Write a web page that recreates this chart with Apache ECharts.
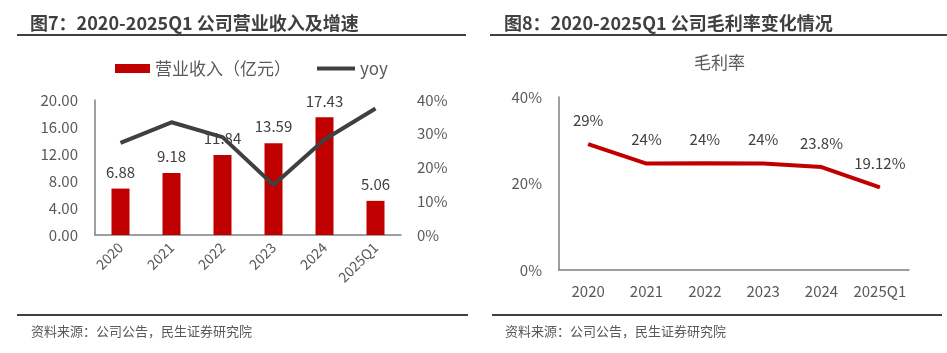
<!DOCTYPE html>
<html><head><meta charset="utf-8">
<script src="https://cdn.jsdelivr.net/npm/echarts@6/dist/echarts.min.js"></script>
<style>html,body{margin:0;padding:0;background:#fff}#c{width:947px;height:353px}</style>
</head><body><div id="c"></div>
<script>
var categories = ['2020','2021','2022','2023','2024','2025Q1'];
var revenue = [6.88, 9.18, 11.84, 13.59, 17.43, 5.06];
var yoy = [27.3, 33.4, 29.0, 14.8, 28.3, 37.5];
var grossMargin = [29.1, 24.6, 24.7, 24.6, 23.8, 19.12];
var grossMarginLabels = ['29%','24%','24%','24%','23.8%','19.12%'];
var leftTicks = [0, 4, 8, 12, 16, 20];
var font = '"Noto Sans CJK SC", "Noto Sans", sans-serif';
var chart = echarts.init(document.getElementById('c'));
var axisLabelStyle = {color:'#595959', fontSize:15, fontFamily:font};
chart.setOption({
  animation:false,
  textStyle:{fontFamily:font},
  title:[
    {text:'图7：2020-2025Q1 公司营业收入及增速', left:25, top:9, textStyle:{fontSize:18, fontWeight:'bold', color:'#404040', fontFamily:font}},
    {text:'图8：2020-2025Q1 公司毛利率变化情况', left:499, top:9, textStyle:{fontSize:18, fontWeight:'bold', color:'#404040', fontFamily:font}},
    {text:'毛利率', left:689, top:49, textStyle:{fontSize:17, fontWeight:'normal', color:'#595959', fontFamily:font}},
    {text:'资料来源：公司公告，民生证券研究院', left:26, top:320, textStyle:{fontSize:13, fontWeight:'normal', color:'#595959', fontFamily:font}},
    {text:'资料来源：公司公告，民生证券研究院', left:500, top:320, textStyle:{fontSize:13, fontWeight:'normal', color:'#595959', fontFamily:font}}
  ],
  graphic:[
    {type:'line', shape:{x1:17,y1:35,x2:466,y2:35}, style:{stroke:'#404040', lineWidth:2}},
    {type:'line', shape:{x1:490,y1:35,x2:947,y2:35}, style:{stroke:'#404040', lineWidth:2}},
    {type:'line', shape:{x1:17,y1:315,x2:468,y2:315}, style:{stroke:'#404040', lineWidth:2}},
    {type:'line', shape:{x1:492,y1:315,x2:942,y2:315}, style:{stroke:'#404040', lineWidth:2}}
  ],
  legend:[{
    left:110, top:55, itemWidth:35, itemHeight:9, itemGap:5,
    textStyle:{fontSize:17, color:'#595959', fontFamily:font},
    data:[{name:'营业收入（亿元）', icon:'rect'}]
  },{
    left:312, top:55, itemWidth:38, itemHeight:4, itemGap:2,
    textStyle:{fontSize:17, color:'#595959', fontFamily:font},
    data:[{name:'yoy', icon:'rect'}]
  }],
  grid:[
    {left:95, right:546, top:100, bottom:118},
    {left:559, right:38, top:97, bottom:83}
  ],
  xAxis:[
    {type:'category', gridIndex:0, data:categories, axisTick:{show:false},
     axisLine:{lineStyle:{color:'#7f7f7f', width:1.5}},
     axisLabel:Object.assign({rotate:45, margin:10, interval:0}, axisLabelStyle, {fontSize:14})},
    {type:'category', gridIndex:1, data:categories, axisTick:{show:false},
     axisLine:{lineStyle:{color:'#7f7f7f', width:1.5}},
     axisLabel:Object.assign({margin:14, interval:0}, axisLabelStyle)}
  ],
  yAxis:[
    {type:'value', gridIndex:0, min:leftTicks[0], max:leftTicks[leftTicks.length-1], interval:4,
     axisLine:{show:true, lineStyle:{color:'#7f7f7f', width:1.5}}, axisTick:{show:false}, splitLine:{show:false},
     axisLabel:Object.assign({formatter:function(v){return v.toFixed(2);}, margin:17}, axisLabelStyle)},
    {type:'value', gridIndex:0, min:0, max:40, interval:10, position:'right',
     axisLine:{show:false}, axisTick:{show:false}, splitLine:{show:false},
     axisLabel:Object.assign({formatter:'{value}%', margin:16}, axisLabelStyle)},
    {type:'value', gridIndex:1, min:0, max:40, interval:20,
     axisLine:{show:true, lineStyle:{color:'#7f7f7f', width:1.5}}, axisTick:{show:false}, splitLine:{show:false},
     axisLabel:Object.assign({formatter:'{value}%', margin:17}, axisLabelStyle)}
  ],
  series:[
    {name:'营业收入（亿元）', type:'bar', xAxisIndex:0, yAxisIndex:0, data:revenue, barWidth:18,
     itemStyle:{color:'#C00000'},
     label:{show:true, position:'top', distance:9, color:'#404040', fontSize:15, fontFamily:font,
            formatter:function(p){return p.value.toFixed(2);}}},
    {name:'yoy', type:'line', xAxisIndex:0, yAxisIndex:1, data:yoy, symbol:'none',
     lineStyle:{color:'#404040', width:4}, itemStyle:{color:'#404040'}},
    {name:'毛利率', type:'line', xAxisIndex:1, yAxisIndex:2, data:grossMargin,
     symbol:'circle', symbolSize:1, showSymbol:true,
     lineStyle:{color:'#C00000', width:4}, itemStyle:{color:'#C00000'},
     label:{show:true, position:'top', distance:16, color:'#404040', fontSize:15, fontFamily:font,
            formatter:function(p){return grossMarginLabels[p.dataIndex];}}}
  ]
});
</script></body></html>
